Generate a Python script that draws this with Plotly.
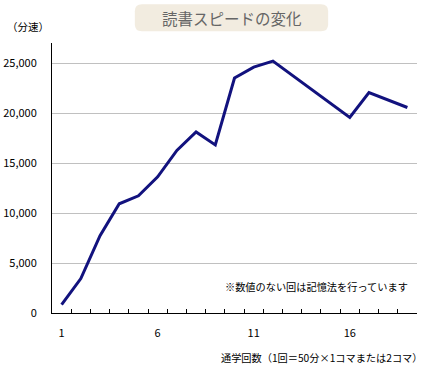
import plotly.graph_objects as go

sessions = list(range(1, 20))
speed = [850, 3450, 7750, 10950, 11750, 13650, 16300, 18150, 16850,
         23550, 24650, 25250, None, None, None, 19600, 22100, None, 20600]
label_ticks = [1, 6, 11, 16]
y_ticks = [0, 5000, 10000, 15000, 20000, 25000]
y_labels = ["0", "5,000", "10,000", "15,000", "20,000", "25,000"]

W, H = 432, 368
L, R, T, B = 52.3, 416.7, 42.7, 312.7
FONT = "Noto Sans CJK JP"


def px(x):
    return (x - L) / (R - L)


def py(y):
    return (B - y) / (B - T)


fig = go.Figure()
fig.add_trace(go.Scatter(
    x=sessions, y=speed, mode="lines", connectgaps=True,
    line=dict(color="#12127e", width=3), showlegend=False, hoverinfo="skip"))
# invisible trace for label axis
fig.add_trace(go.Scatter(x=[sessions[0]], y=[0], xaxis="x2", mode="markers",
                         marker=dict(opacity=0), showlegend=False, hoverinfo="skip"))

# rounded title box
x0, x1, y0, y1, r = 135, 328, 4, 31, 7
pts = [
    ("M", x0 + r, y0), ("L", x1 - r, y0), ("Q", x1, y0, x1, y0 + r),
    ("L", x1, y1 - r), ("Q", x1, y1, x1 - r, y1), ("L", x0 + r, y1),
    ("Q", x0, y1, x0, y1 - r), ("L", x0, y0 + r), ("Q", x0, y0, x0 + r, y0)]
path = ""
for p in pts:
    cmd = p[0]
    coords = p[1:]
    s = []
    for i in range(0, len(coords), 2):
        s.append(f"{px(coords[i]):.5f},{py(coords[i+1]):.5f}")
    path += cmd + " ".join(s) + " "
path += "Z"
fig.add_shape(type="path", path=path, xref="paper", yref="paper",
              fillcolor="#f2ece0", line=dict(width=0), layer="below")

fig.add_annotation(text="読書スピードの変化", x=px(232), y=py(17.5), xref="paper", yref="paper",
                   showarrow=False, font=dict(family=FONT, size=15.5, color="#666666"),
                   xanchor="center", yanchor="middle")
fig.add_annotation(text="（分速）", x=px(28), y=py(26), xref="paper", yref="paper",
                   showarrow=False, font=dict(family=FONT, size=10.5, color="#000000"),
                   xanchor="center", yanchor="middle")
fig.add_annotation(text="※数値のない回は記憶法を行っています", x=px(410), y=py(286),
                   xref="paper", yref="paper", showarrow=False,
                   font=dict(family=FONT, size=10.2, color="#000000"),
                   xanchor="right", yanchor="middle")
fig.add_annotation(text="通学回数（1回＝50分×1コマまたは2コマ）", x=px(424), y=py(357.5),
                   xref="paper", yref="paper", showarrow=False,
                   font=dict(family=FONT, size=10.2, color="#000000"),
                   xanchor="right", yanchor="middle")

fig.update_layout(
    width=W, height=H,
    margin=dict(l=L, r=W - R, t=T, b=H - B, pad=0),
    paper_bgcolor="white", plot_bgcolor="white",
    font=dict(family=FONT, size=11, color="#000000"),
    xaxis=dict(range=[0.5, 19.5], tickmode="array",
               tickvals=[i + 0.5 for i in sessions], ticktext=[""] * 19,
               ticks="inside", ticklen=4, tickcolor="#000000", tickwidth=1,
               showline=True, linecolor="#000000", linewidth=1,
               showgrid=False, zeroline=False, automargin=False),
    xaxis2=dict(range=[0.5, 19.5], overlaying="x", side="bottom",
                tickmode="array", tickvals=label_ticks,
                ticktext=[str(v) for v in label_ticks],
                ticks="", showline=False, showgrid=False, zeroline=False,
                ticklabelstandoff=12, tickfont=dict(size=11), automargin=False),
    yaxis=dict(range=[0, 27065], tickmode="array", tickvals=y_ticks, ticktext=y_labels,
               showline=True, linecolor="#000000", linewidth=1,
               showgrid=True, gridcolor="#c0c0c0", gridwidth=1,
               zeroline=False, ticks="", ticklabelstandoff=12,
               tickfont=dict(size=11), automargin=False),
)
fig.write_html("out.html", config={"displayModeBar": False},
               post_script="document.body.style.margin='0px';document.body.style.padding='0px';")
